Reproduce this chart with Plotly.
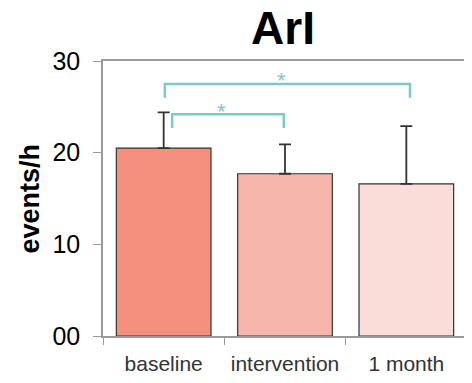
import plotly.graph_objects as go

categories = ["baseline", "intervention", "1 month"]
means = [20.5, 17.7, 16.6]
sd_upper = [3.9, 3.2, 6.3]
bar_colors = ["#F5907E", "#F7B6AB", "#FADDD9"]
y_tickvals = [0, 10, 20, 30]
y_ticktext = ["00", "10", "20", "30"]
# significance brackets: (x_left, x_right, y_top, y_bottom, label)
brackets = [(0.07, 0.99, 24.2, 22.7, "*"), (0.01, 2.03, 27.5, 26.0, "*")]

fig = go.Figure()
fig.add_trace(go.Bar(
    x=categories, y=means,
    marker=dict(color=bar_colors, line=dict(color="#333333", width=1.2)),
    width=0.78,
    error_y=dict(type="data", symmetric=False, array=sd_upper,
                 arrayminus=[0]*len(means), color="#333333",
                 thickness=1.8, width=6),
))

teal = "#7CC8CD"
for xl, xr, yt, yb, lab in brackets:
    fig.add_shape(type="path",
                  path=f"M {xl},{yb} L {xl},{yt} L {xr},{yt} L {xr},{yb}",
                  xref="x", yref="y", line=dict(color=teal, width=2.5))
    fig.add_annotation(x=(xl+xr)/2, y=yt, xref="x", yref="y", text=lab,
                       showarrow=False, yanchor="middle", yshift=3, xshift=-6,
                       font=dict(color=teal, size=22, family="Liberation Sans"))

fig.add_annotation(text="<b>events/h</b>", textangle=-90,
                   x=(29.5-103)/364, y=(336-199)/275,
                   xref="paper", yref="paper", showarrow=False,
                   xanchor="center", yanchor="middle",
                   font=dict(size=27, color="#000000", family="Liberation Sans"))

fig.update_layout(
    width=472, height=383,
    margin=dict(l=95, r=13, t=53, b=55, autoexpand=False),
    paper_bgcolor="white", plot_bgcolor="white",
    showlegend=False,
    font=dict(family="Liberation Sans", color="#000000"),
    title=dict(text="<b>ArI</b>", x=275/472, xanchor="center",
               y=1-4/383, yanchor="top",
               font=dict(size=46, color="#000000", family="Liberation Sans")),
)
fig.update_xaxes(
    type="category", range=[-0.5, 2.5], tickson="boundaries",
    ticks="outside", ticklen=7, automargin=False, ticklabelstandoff=8,
    tickcolor="#999999", showline=True, linecolor="#999999", linewidth=1.5,
    mirror=True, showgrid=False, tickangle=0,
    tickfont=dict(size=21, color="#333333", family="Liberation Sans"),
)
fig.update_yaxes(
    range=[0, 30], tickvals=y_tickvals, ticktext=y_ticktext,
    ticks="outside", ticklen=8, tickcolor="#999999", automargin=False,
    showline=True, linecolor="#999999", linewidth=1.5, mirror=True,
    showgrid=False, zeroline=False, ticklabelstandoff=8,
    tickfont=dict(size=25, color="#000000", family="Liberation Sans"),
)
fig.write_html("out.html")
